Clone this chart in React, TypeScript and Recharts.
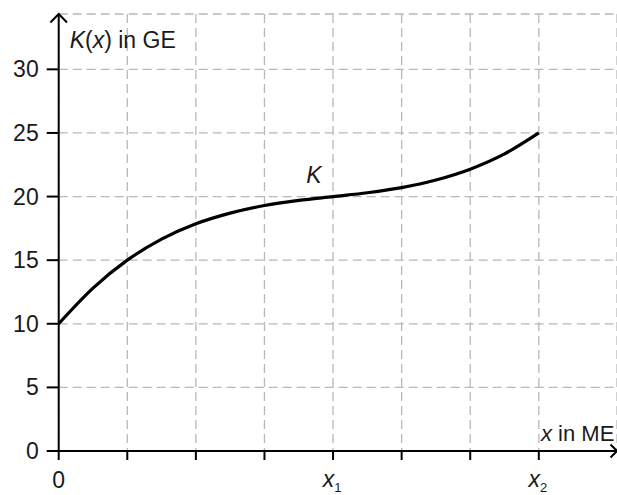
import React from "react";
import {
  LineChart,
  Line,
  XAxis,
  YAxis,
  CartesianGrid,
  ReferenceDot,
} from "recharts";

// Values
const xValues = [0, 0.5, 1, 1.5, 2, 2.5, 3, 3.5, 4, 4.5, 5, 5.5, 6, 6.5, 7];
const kValues = [10, 12.8, 15, 16.65, 17.86, 18.7, 19.3, 19.7, 20, 20.3, 20.7, 21.3, 22.15, 23.35, 25];
const xTicks = [0, 1, 2, 3, 4, 5, 6, 7];
const xTickLabels: Record<number, string> = { 0: "0", 4: "x1", 7: "x2" };
const yTicks = [0, 5, 10, 15, 20, 25, 30];

const data = xValues.map((x, i) => ({ x, k: kValues[i] }));

const FONT = "'Liberation Sans', Arial, Helvetica, sans-serif";
const TEXT = "#1a1a1a";
const FS = 23;

const YTick = (props: any) => {
  const { x, y, payload } = props;
  return (
    <text x={x} y={y} textAnchor="end" dominantBaseline="central" fontFamily={FONT} fontSize={FS} fill={TEXT}>
      {payload.value}
    </text>
  );
};

const XTick = (props: any) => {
  const { x, y, payload } = props;
  const lbl = xTickLabels[payload.value];
  if (!lbl) return null;
  if (lbl === "0") {
    return (
      <text x={x} y={y + 26} textAnchor="middle" fontFamily={FONT} fontSize={FS} fill={TEXT}>
        0
      </text>
    );
  }
  return (
    <text x={x - 1} y={y + 25} textAnchor="middle" fontFamily={FONT} fontSize={FS} fill={TEXT}>
      <tspan fontStyle="italic">x</tspan>
      <tspan fontSize={13} dy={5}>{lbl.slice(1)}</tspan>
    </text>
  );
};

const YAxisLabel = (props: any) => {
  const vb = props.viewBox || {};
  const ax = vb.x + vb.width;
  const top = vb.y;
  return (
    <g>
      <polyline
        points={`${ax - 8.3},${top + 8.5} ${ax},${top} ${ax + 8.3},${top + 8.5}`}
        fill="none"
        stroke="#000"
        strokeWidth={2}
      />
      <text x={ax + 11} y={top + 34} fontFamily={FONT} fontSize={FS} fill={TEXT}>
        <tspan fontStyle="italic">K</tspan>(<tspan fontStyle="italic">x</tspan>) in GE
      </text>
    </g>
  );
};

const XAxisLabel = (props: any) => {
  const vb = props.viewBox || {};
  const ay = vb.y;
  const right = vb.x + vb.width;
  return (
    <g>
      <text x={right - 76} y={ay - 10} fontFamily={FONT} fontSize={22} fill={TEXT}>
        <tspan fontStyle="italic">x</tspan> in ME
      </text>
      <polyline
        points={`${right - 6.5},${ay - 6.5} ${right},${ay} ${right - 6.5},${ay + 6.5}`}
        fill="none"
        stroke="#000"
        strokeWidth={2}
      />
    </g>
  );
};

const KLabel = (props: any) => {
  const vb = props.viewBox || {};
  return (
    <text x={vb.x} y={vb.y} textAnchor="middle" dominantBaseline="central" fontFamily={FONT} fontSize={FS} fontStyle="italic" fill={TEXT}>
      K
    </text>
  );
};

export default function App() {
  return (
    <div style={{ position: "absolute", left: 0, top: 0, width: 617, height: 495, background: "#fff" }}>
      <LineChart
        width={617}
        height={495}
        data={data}
        margin={{ top: 14, right: 0, bottom: 0, left: 0 }}
      >
        <CartesianGrid stroke="#b8b8b8" strokeDasharray="9 5" strokeWidth={1.3} />
        <XAxis
          type="number"
          dataKey="x"
          domain={[0, 8.14]}
          ticks={xTicks}
          allowDataOverflow
          height={44}
          tickSize={9}
          tickMargin={2}
          axisLine={{ stroke: "#000", strokeWidth: 2 }}
          tickLine={{ stroke: "#000", strokeWidth: 2 }}
          tick={<XTick />}
          interval={0}
          label={<XAxisLabel />}
        />
        <YAxis
          type="number"
          domain={[0, 34.35]}
          ticks={yTicks}
          allowDataOverflow
          width={58.7}
          tickSize={12}
          tickMargin={8}
          axisLine={{ stroke: "#000", strokeWidth: 2 }}
          tickLine={{ stroke: "#000", strokeWidth: 2 }}
          tick={<YTick />}
          interval={0}
          label={<YAxisLabel />}
        />
        <Line
          type="monotone"
          dataKey="k"
          stroke="#000"
          strokeWidth={3.2}
          dot={false}
          isAnimationActive={false}
        />
        <ReferenceDot x={3.72} y={21.7} r={0} ifOverflow="visible" label={<KLabel />} />
      </LineChart>
    </div>
  );
}
